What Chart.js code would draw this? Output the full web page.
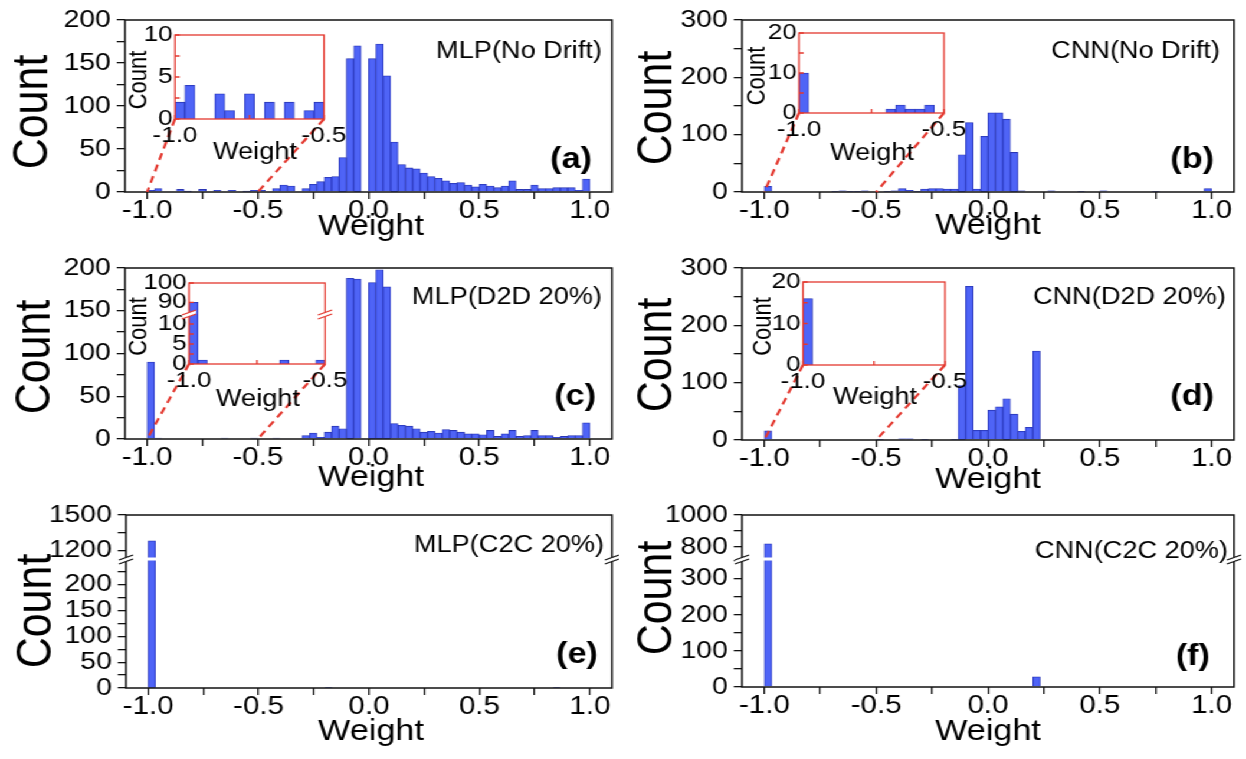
<!DOCTYPE html>
<html>
<head>
<meta charset="utf-8">
<script src="https://cdn.jsdelivr.net/npm/chart.js@4.4.1/dist/chart.umd.min.js"></script>
<style>
  html, body { margin: 0; padding: 0; background: #fff; overflow: hidden; }
  #fig { position: absolute; left: 0; top: 0; width: 1056px; height: 759px;
         transform: scaleX(1.18); transform-origin: 0 0; }
  #fig canvas { position: absolute; }
</style>
</head>
<body>
<div id="fig"></div>
<script>
// whole figure is drawn 1/S narrow and stretched back to full width
const S = 1.18;
const FONT = "'Liberation Sans', Arial, sans-serif";
const BAR_FILL = "rgba(70, 92, 245, 0.95)";
const BAR_EDGE = "#2a36b4";
const RED = "#e3382f";

// histogram bins: 60 bins of width 1/30 over [-1, 1]
const BIN_START = -1, BIN_W = 1 / 30;
const weightBins = Array.from({ length: 60 }, (_, k) => BIN_START + (k + 0.5) * BIN_W);

const xMajor = [-1, -0.5, 0, 0.5, 1];
const xMinor = [-0.75, -0.25, 0.25, 0.75];
const insetXMajor = [-1, -0.5];
const insetXMinor = [-0.75];

// counts per bin
const mlpNoDrift = [
  2, 4, 0, 0, 3, 1, 0, 3, 0, 2,
  0, 2, 0, 1, 2, 2, 0, 4, 8, 7,
  0, 4, 9, 12, 17, 18, 40, 155, 170, 0,
  155, 172, 135, 58, 32, 28, 27, 22, 18, 16,
  13, 10, 11, 8, 6, 9, 7, 5, 7, 13,
  3, 3, 8, 4, 4, 5, 5, 5, 2, 15
];
const cnnNoDrift = [
  10, 0, 0, 0, 0, 0, 0, 0, 0, 1,
  2, 1, 1, 2, 0, 0, 1, 2, 6, 3,
  1, 5, 6, 6, 5, 5, 65, 121, 5, 97,
  138, 138, 127, 69, 2, 0, 0, 0, 2, 0,
  0, 0, 1, 0, 0, 2, 0, 0, 0, 0,
  0, 0, 1, 0, 0, 0, 0, 0, 0, 6
];
const mlpD2D = [
  90, 1, 0, 0, 0, 0, 0, 0, 0, 0,
  1, 0, 0, 0, 1, 0, 0, 1, 0, 0,
  0, 4, 7, 2, 8, 15, 12, 188, 187, 0,
  183, 198, 178, 18, 16, 15, 12, 8, 9, 7,
  11, 10, 8, 6, 6, 5, 10, 3, 6, 10,
  3, 4, 10, 4, 4, 2, 3, 4, 4, 19
];
const cnnD2D = [
  16, 0, 0, 0, 0, 0, 0, 0, 0, 0,
  0, 0, 0, 0, 0, 1, 0, 0, 2, 2,
  0, 1, 0, 0, 0, 1, 95, 268, 17, 17,
  52, 58, 72, 45, 15, 22, 155, 0, 0, 0,
  0, 0, 0, 0, 0, 0, 0, 0, 0, 0,
  0, 0, 0, 0, 0, 0, 0, 0, 0, 0
];
const mlpC2C = [
  1280, 0, 0, 0, 0, 0, 0, 0, 0, 0,
  0, 0, 0, 0, 0, 0, 0, 0, 0, 0,
  0, 0, 0, 0, 1, 0, 0, 0, 0, 0,
  0, 0, 0, 0, 0, 0, 0, 0, 0, 0,
  0, 0, 0, 0, 0, 0, 0, 0, 0, 0,
  0, 0, 0, 0, 0, 1, 0, 0, 0, 0
];
const cnnC2C = [
  820, 0, 0, 0, 0, 0, 0, 0, 0, 0,
  0, 0, 0, 0, 0, 0, 0, 0, 0, 0,
  0, 0, 0, 0, 0, 0, 0, 0, 0, 0,
  0, 0, 0, 0, 0, 0, 28, 0, 0, 0,
  0, 0, 0, 0, 0, 0, 0, 0, 0, 0,
  0, 0, 0, 0, 0, 0, 0, 0, 0, 0
];

Chart.defaults.font.family = FONT;
Chart.defaults.color = "#000";

const fig = document.getElementById("fig");

function makeCanvas(box, z) {
  const el = document.createElement("canvas");
  const left = Math.round(box[0] / S), top = box[1];
  const w = Math.round(box[2] / S), h = box[3];
  el.width = w; el.height = h;
  Object.assign(el.style, { left: left + "px", top: top + "px", width: w + "px", height: h + "px", zIndex: z });
  fig.appendChild(el);
  return { el, left, top, w, h };
}

const toXY = counts => counts.map((c, k) => ({ x: weightBins[k], y: c }));
const ticksOf = (major, minor) => major.concat(minor).sort((a, b) => a - b).map(v => ({ value: v }));

function drawText(ctx, cv, t) {
  ctx.save();
  ctx.font = t.font;
  ctx.fillStyle = "#000";
  ctx.textAlign = t.align || "center";
  ctx.textBaseline = "middle";
  ctx.translate(t.x / S - cv.left, t.y - cv.top);
  if (t.rot) ctx.rotate(-Math.PI / 2);
  ctx.fillText(t.text, 0, 0);
  ctx.restore();
}

// keep each dataset inside its own (possibly stacked) y axis
const clipToAxis = {
  id: "clipToAxis",
  beforeDatasetDraw(chart, args) {
    const ys = args.meta.yScale, a = chart.chartArea;
    chart.ctx.save();
    chart.ctx.beginPath();
    chart.ctx.rect(a.left, ys.top, a.right - a.left, ys.bottom - ys.top);
    chart.ctx.clip();
  },
  afterDatasetDraw(chart) { chart.ctx.restore(); }
};

function breakMarks(ctx, x, y, color) {
  ctx.save();
  ctx.fillStyle = "#fff";
  ctx.beginPath();
  ctx.moveTo(x - 6, y + 1); ctx.lineTo(x + 6, y - 4);
  ctx.lineTo(x + 6, y + 0); ctx.lineTo(x - 6, y + 5);
  ctx.closePath(); ctx.fill();
  ctx.strokeStyle = color; ctx.lineWidth = 1.3;
  ctx.beginPath();
  ctx.moveTo(x - 6, y + 1); ctx.lineTo(x + 6, y - 4);
  ctx.moveTo(x - 6, y + 5); ctx.lineTo(x + 6, y + 0);
  ctx.stroke();
  ctx.restore();
}

function yScaleOpts(ax, stacked, width, tickOpts, grid) {
  const o = {
    type: "linear", position: "left", min: ax.min, max: ax.max,
    afterBuildTicks: s => { s.ticks = ticksOf(ax.major, ax.minor); },
    afterFit: s => { s.width = width; },
    grid, border: { display: false },
    ticks: Object.assign({ autoSkip: false, callback: v => ax.major.includes(v) ? String(v) : "" }, tickOpts)
  };
  if (stacked) { o.stack = "count"; o.stackWeight = ax.weight; }
  return o;
}

function insetChart(p) {
  const cv = p.cv, A = p.area;
  const yW = 40, xH = 26;
  const stacked = p.yAxes.length > 1;
  const scales = {
    x: {
      type: "linear", min: -1, max: -0.5, offset: false,
      afterBuildTicks: s => { s.ticks = ticksOf(insetXMajor, []); },
      afterFit: s => { s.height = xH; },
      grid: { display: false, drawTicks: false }, border: { display: false },
      ticks: { autoSkip: false, maxRotation: 0, padding: 6, font: { size: 22, lineHeight: 1 }, callback: v => v.toFixed(1) }
    }
  };
  p.yAxes.forEach(ax => {
    scales[ax.id] = yScaleOpts(ax, stacked, yW, { padding: 2, font: { size: 22, lineHeight: 1 } },
      { display: false, drawTicks: false });
  });
  const decor = {
    id: "insetDecor",
    afterDraw(chart) {
      const ctx = chart.ctx, a = chart.chartArea;
      ctx.save();
      ctx.strokeStyle = RED; ctx.lineWidth = 1.3;
      ctx.strokeRect(a.left, a.top, a.right - a.left, a.bottom - a.top);
      ctx.beginPath();
      insetXMajor.concat(insetXMinor).forEach(v => {
        const x = chart.scales.x.getPixelForValue(v);
        ctx.moveTo(x, a.bottom); ctx.lineTo(x, a.bottom - 4);
      });
      p.yAxes.forEach(ax => {
        ax.major.concat(ax.minor).forEach(v => {
          const y = chart.scales[ax.id].getPixelForValue(v);
          ctx.moveTo(a.left, y); ctx.lineTo(a.left + 4, y);
        });
      });
      ctx.stroke();
      ctx.restore();
      if (stacked) {
        const yb = chart.scales.yTop.bottom;
        breakMarks(ctx, a.left, yb, RED);
        breakMarks(ctx, a.right, yb, RED);
      }
      const cy = (A.t + A.b) / 2 + 3;
      drawText(ctx, cv, { text: "Count", x: p.countX, y: cy, font: "22px " + FONT, rot: true });
      drawText(ctx, cv, { text: "Weight", x: p.weight[0], y: p.weight[1], font: "23px " + FONT });
    }
  };
  return new Chart(cv.el, {
    type: "bar",
    data: {
      datasets: p.yAxes.map(ax => ({
        data: toXY(p.counts), yAxisID: ax.id, grouped: false,
        backgroundColor: BAR_FILL, borderColor: BAR_EDGE, borderWidth: 0.8,
        barPercentage: 1, categoryPercentage: 1
      }))
    },
    options: {
      responsive: false, animation: false, events: [],
      plugins: { legend: { display: false }, tooltip: { enabled: false } },
      layout: { padding: {
        left: A.l / S - cv.left - yW, right: cv.left + cv.w - A.r / S,
        top: A.t - cv.top, bottom: cv.top + cv.h - A.b - xH } },
      scales
    },
    plugins: [clipToAxis, decor]
  });
}

function mainChart(p, inset) {
  const cv = p.cv, A = p.area;
  const yW = 64, xH = 40;
  const stacked = p.yAxes.length > 1;
  const axisGrid = { drawOnChartArea: false, drawTicks: true, tickLength: 7, color: "#111", lineWidth: 1.3, offset: false };
  const scales = {
    x: {
      type: "linear", min: -1.1, max: 1.1, offset: false,
      afterBuildTicks: s => { s.ticks = ticksOf(xMajor, xMinor); },
      afterFit: s => { s.height = xH; },
      grid: axisGrid, border: { display: false },
      ticks: { autoSkip: false, maxRotation: 0, padding: 0, font: { size: 25, lineHeight: 1 },
               callback: v => xMajor.includes(v) ? v.toFixed(1) : "" }
    }
  };
  p.yAxes.forEach(ax => {
    scales[ax.id] = yScaleOpts(ax, stacked, yW, { padding: 5, font: { size: 24, lineHeight: 1 } }, axisGrid);
  });
  const decor = {
    id: "panelDecor",
    afterDraw(chart) {
      const ctx = chart.ctx, a = chart.chartArea;
      if (stacked) {
        const yb = chart.scales.yTop.bottom;
        ctx.save();
        ctx.fillStyle = "#fff";
        ctx.fillRect(a.left + 1, yb - 1.5, a.right - a.left - 2, 3);
        ctx.restore();
      }
      ctx.save();
      ctx.strokeStyle = "#111"; ctx.lineWidth = 1.5;
      ctx.strokeRect(a.left, a.top, a.right - a.left, a.bottom - a.top);
      ctx.restore();
      if (stacked) {
        const yb = chart.scales.yTop.bottom;
        breakMarks(ctx, a.left, yb, "#111");
        breakMarks(ctx, a.right, yb, "#111");
      }
      if (inset) {
        const ia = inset.chart.chartArea, icv = inset.cv;
        ctx.save();
        ctx.strokeStyle = RED; ctx.lineWidth = 2.2; ctx.setLineDash([7, 5]);
        ctx.beginPath();
        [-1, -0.5].forEach(v => {
          ctx.moveTo(icv.left + inset.chart.scales.x.getPixelForValue(v) - cv.left, icv.top + ia.bottom - cv.top);
          ctx.lineTo(chart.scales.x.getPixelForValue(v), chart.scales.y.getPixelForValue(0));
        });
        ctx.stroke();
        ctx.restore();
      }
      drawText(ctx, cv, { text: p.name, x: p.nameAt[0], y: p.nameAt[1], font: "23px " + FONT, align: "right" });
      drawText(ctx, cv, { text: p.tag, x: p.tagAt[0], y: p.tagAt[1], font: "bold 29px " + FONT, align: "right" });
      drawText(ctx, cv, { text: "Count", x: p.countAt[0], y: p.countAt[1], font: "43px " + FONT, rot: true });
      drawText(ctx, cv, { text: "Weight", x: p.weightAt[0], y: p.weightAt[1], font: "29px " + FONT });
    }
  };
  return new Chart(cv.el, {
    type: "bar",
    data: {
      datasets: p.yAxes.map(ax => ({
        data: toXY(p.counts), yAxisID: ax.id, grouped: false,
        backgroundColor: BAR_FILL, borderColor: BAR_EDGE, borderWidth: 0.8,
        barPercentage: 1, categoryPercentage: 1
      }))
    },
    options: {
      responsive: false, animation: false, events: [],
      plugins: { legend: { display: false }, tooltip: { enabled: false } },
      layout: { padding: {
        left: A.l / S - cv.left - yW, right: cv.left + cv.w - A.r / S,
        top: A.t - cv.top, bottom: cv.top + cv.h - A.b - xH } },
      scales
    },
    plugins: [clipToAxis, decor]
  });
}

const yCount200 = [{ id: "y", min: 0, max: 200, major: [0, 50, 100, 150, 200], minor: [25, 75, 125, 175] }];
const yCount300 = [{ id: "y", min: 0, max: 300, major: [0, 100, 200, 300], minor: [50, 150, 250] }];

const panels = [
  { counts: mlpNoDrift, box: [0, 0, 620, 250], area: { l: 125, t: 20, r: 612, b: 192 }, yAxes: yCount200,
    name: "MLP(No Drift)", nameAt: [602, 52], tag: "(a)", tagAt: [592, 160], countAt: [33, 112], weightAt: [371, 227],
    inset: { box: [112, 22, 253, 155], area: { l: 175, t: 35, r: 324, b: 119 }, countX: 139, weight: [255, 153],
             yAxes: [{ id: "y", min: 0, max: 10, major: [0, 5, 10], minor: [2.5, 7.5] }] } },
  { counts: cnnNoDrift, box: [620, 0, 626, 250], area: { l: 742, t: 20, r: 1234, b: 192 }, yAxes: yCount300,
    name: "CNN(No Drift)", nameAt: [1220, 52], tag: "(b)", tagAt: [1214, 160], countAt: [658, 108], weightAt: [988, 226],
    inset: { box: [737, 20, 253, 155], area: { l: 799, t: 33, r: 944, b: 113 }, countX: 757, weight: [872, 154],
             yAxes: [{ id: "y", min: 0, max: 20, major: [0, 10, 20], minor: [5, 15] }] } },
  { counts: mlpD2D, box: [0, 248, 620, 250], area: { l: 125, t: 268, r: 612, b: 439 }, yAxes: yCount200,
    name: "MLP(D2D 20%)", nameAt: [602, 298], tag: "(c)", tagAt: [596, 397], countAt: [35, 357], weightAt: [371, 478],
    inset: { box: [126, 270, 242, 150], area: { l: 189, t: 283, r: 325, b: 364 }, countX: 139, weight: [258, 400],
             yAxes: [{ id: "y", min: 0, max: 12.5, major: [0, 5, 10], minor: [2.5, 7.5], weight: 50 },
                     { id: "yTop", min: 84, max: 100, major: [90, 100], minor: [], weight: 31 }] } },
  { counts: cnnD2D, box: [620, 248, 626, 250], area: { l: 742, t: 268, r: 1234, b: 440 }, yAxes: yCount300,
    name: "CNN(D2D 20%)", nameAt: [1226, 298], tag: "(d)", tagAt: [1214, 397], countAt: [658, 355], weightAt: [988, 480],
    inset: { box: [740, 269, 247, 150], area: { l: 803, t: 282, r: 945, b: 365 }, countX: 763, weight: [875, 398],
             yAxes: [{ id: "y", min: 0, max: 20, major: [0, 10, 20], minor: [5, 15] }] } },
  { counts: mlpC2C, box: [0, 497, 620, 262], area: { l: 126, t: 515, r: 612, b: 688 },
    yAxes: [{ id: "y", min: 0, max: 250, major: [0, 50, 100, 150, 200], minor: [25, 75, 125, 175, 225], weight: 129 },
            { id: "yTop", min: 1125, max: 1500, major: [1200, 1500], minor: [1350], weight: 44 }],
    name: "MLP(C2C 20%)", nameAt: [604, 546], tag: "(e)", tagAt: [598, 655], countAt: [37, 611], weightAt: [371, 732] },
  { counts: cnnC2C, box: [620, 497, 626, 262], area: { l: 742, t: 515, r: 1234, b: 687 },
    yAxes: [{ id: "y", min: 0, max: 355, major: [0, 100, 200, 300], minor: [50, 150, 250, 350], weight: 128 },
            { id: "yTop", min: 725, max: 1000, major: [800, 1000], minor: [900], weight: 44 }],
    name: "CNN(C2C 20%)", nameAt: [1228, 552], tag: "(f)", tagAt: [1210, 657], countAt: [657, 598], weightAt: [988, 732] }
];

panels.forEach(p => {
  p.cv = makeCanvas(p.box, 1);
  let inset = null;
  if (p.inset) {
    const q = Object.assign({ counts: p.counts }, p.inset);
    q.cv = makeCanvas(q.box, 2);
    inset = { chart: insetChart(q), cv: q.cv };
  }
  mainChart(p, inset);
});
</script>
</body>
</html>
